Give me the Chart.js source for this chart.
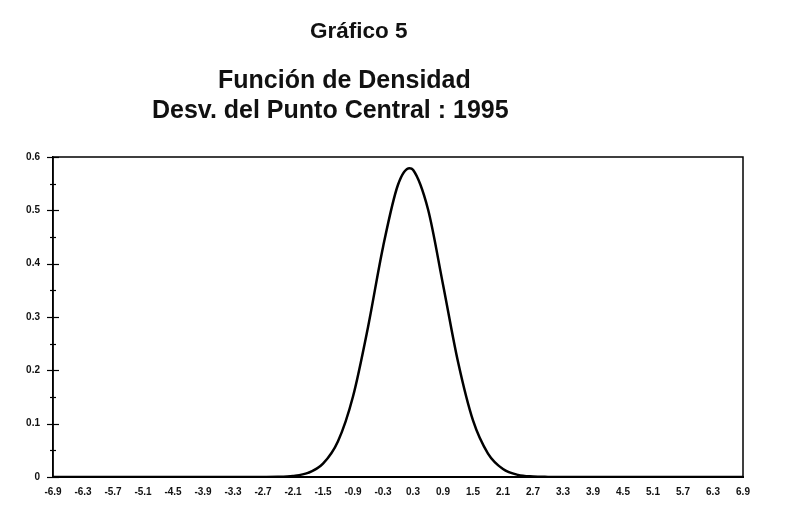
<!DOCTYPE html>
<html>
<head>
<meta charset="utf-8">
<script src="https://cdn.jsdelivr.net/npm/chart.js@4"></script>
<style>
  body { margin: 0; background: #fff; }
  #wrap { position: relative; width: 792px; height: 522px; }
  .ttl { position: absolute; font-family: "Liberation Sans", Arial, sans-serif;
         font-weight: bold; color: #111; white-space: nowrap; line-height: 1; }
  canvas { position: absolute; left: 0; top: 0; }
</style>
</head>
<body>
<div id="wrap">
  <canvas id="chart" width="792" height="522"></canvas>
  <div class="ttl" style="left: 310px; top: 20px; font-size: 22.5px;">Gráfico 5</div>
  <div class="ttl" style="left: 218px; top: 67px; font-size: 25px;">Función de Densidad</div>
  <div class="ttl" style="left: 152px; top: 97px; font-size: 25px;">Desv. del Punto Central : 1995</div>
</div>
<script>
// values
const xValues = [-6.9, -3.3, -3.0, -2.7, -2.4, -2.1, -1.8, -1.5, -1.2, -0.9, -0.6, -0.3, 0.0, 0.23,
                 0.3, 0.6, 0.9, 1.2, 1.5, 1.8, 2.1, 2.4, 2.7, 3.0, 3.3, 6.9];
const density = [0, 0, 0.0001, 0.0002, 0.0004, 0.0019, 0.0076, 0.025, 0.067, 0.151, 0.281, 0.431, 0.548, 0.579,
                 0.576, 0.502, 0.361, 0.216, 0.106, 0.044, 0.015, 0.004, 0.001, 0.0002, 0, 0];
const xTicks = [-6.9, -6.3, -5.7, -5.1, -4.5, -3.9, -3.3, -2.7, -2.1, -1.5, -0.9, -0.3,
                0.3, 0.9, 1.5, 2.1, 2.7, 3.3, 3.9, 4.5, 5.1, 5.7, 6.3, 6.9];
const yTicks = [0, 0.05, 0.1, 0.15, 0.2, 0.25, 0.3, 0.35, 0.4, 0.45, 0.5, 0.55, 0.6];
const yLabels = ["0", "", "0.1", "", "0.2", "", "0.3", "", "0.4", "", "0.5", "", "0.6"];

const points = xValues.map((x, i) => ({ x: x, y: density[i] }));

// frame around the plot and ticks crossing the y axis
const framePlugin = {
  id: "frame",
  afterDraw(chart) {
    const { ctx, chartArea: a } = chart;
    const y = chart.scales.y;
    ctx.save();
    ctx.strokeStyle = "#000";
    ctx.lineWidth = 1.5;
    ctx.strokeRect(a.left, a.top, a.right - a.left, a.bottom - a.top);
    ctx.lineWidth = 1.2;
    yTicks.forEach((v, i) => {
      const py = Math.round(y.getPixelForValue(v)) + 0.5;
      const major = yLabels[i] !== "";
      ctx.beginPath();
      ctx.moveTo(a.left - (major ? 6 : 3), py);
      ctx.lineTo(a.left + (major ? 6 : 3), py);
      ctx.stroke();
    });
    ctx.restore();
  }
};

new Chart(document.getElementById("chart").getContext("2d"), {
  type: "line",
  data: {
    datasets: [{
      data: points,
      borderColor: "#000",
      borderWidth: 2.5,
      pointRadius: 0,
      fill: false,
      cubicInterpolationMode: "monotone"
    }]
  },
  options: {
    responsive: false,
    animation: false,
    layout: { padding: { top: 157, right: 49, left: 0, bottom: 0 } },
    plugins: { legend: { display: false }, tooltip: { enabled: false } },
    scales: {
      x: {
        type: "linear",
        min: -6.9,
        max: 6.9,
        afterBuildTicks: (scale) => { scale.ticks = xTicks.map((v) => ({ value: v })); },
        afterFit: (scale) => { scale.height = 45; },
        grid: { display: false },
        border: { color: "#000", width: 2 },
        ticks: {
          autoSkip: false,
          maxRotation: 0,
          padding: 1,
          color: "#111",
          font: { family: "Liberation Sans", size: 10, weight: "bold" },
          callback: (v) => v.toFixed(1)
        }
      },
      y: {
        min: 0,
        max: 0.6,
        afterBuildTicks: (scale) => { scale.ticks = yTicks.map((v) => ({ value: v })); },
        afterFit: (scale) => { scale.width = 53; },
        grid: { drawOnChartArea: false, drawTicks: false },
        border: { color: "#000", width: 1.5 },
        ticks: {
          padding: 13,
          color: "#111",
          font: { family: "Liberation Sans", size: 10, weight: "bold" },
          callback: (v, i) => yLabels[i]
        }
      }
    }
  },
  plugins: [framePlugin]
});
</script>
</body>
</html>
